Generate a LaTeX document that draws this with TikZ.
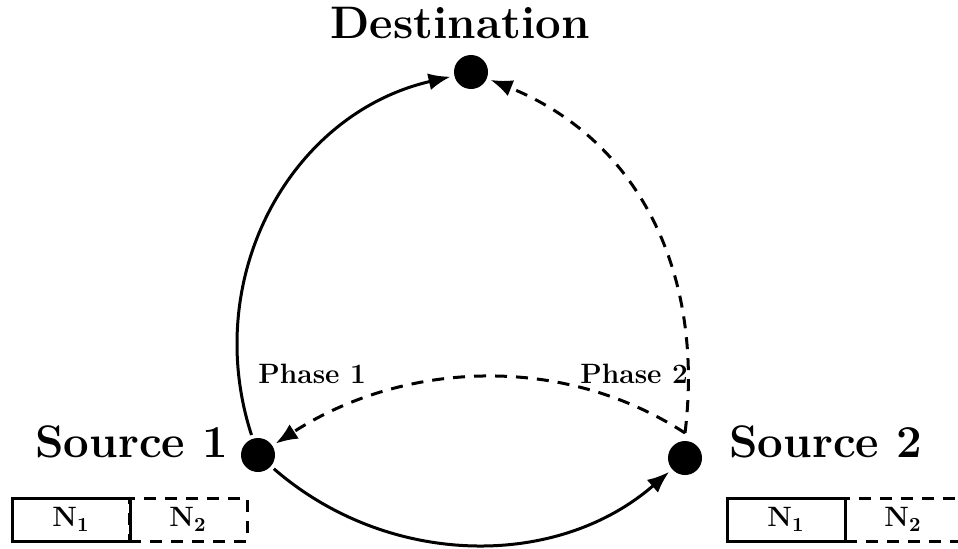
\documentclass[tikz,border=0pt]{standalone}
\usetikzlibrary{arrows.meta}
\begin{document}
\begin{tikzpicture}[x=0.5pt,y=0.5pt,
  dot/.style={circle,fill=black,inner sep=0pt,minimum size=17pt,outer sep=2pt},
  bigtext/.style={font=\fontsize{22.8}{26}\selectfont\bfseries,inner sep=0pt},
  smalltext/.style={font=\fontsize{14}{16}\selectfont\bfseries,inner sep=0pt},
  conn/.style={line width=1.5pt,-{Latex[length=11pt,width=8.5pt]}},
  dashconn/.style={conn,dash pattern=on 6pt off 4.5pt},
  solidbox/.style={draw,line width=1.5pt,minimum width=59pt,minimum height=21.5pt,inner sep=0pt,font=\fontsize{14}{16}\selectfont\bfseries},
  dashbox/.style={solidbox,dash pattern=on 6pt off 4.5pt}]
\useasboundingbox (0,0) rectangle (958,548);
\node[dot] (d) at (471,476) {};
\node[dot] (s1) at (258,93) {};
\node[dot] (s2) at (685,90) {};
\coordinate (s2top) at (685,115);
\node[bigtext,anchor=base] (dl) at (460,510) {Destination};
\node[bigtext,anchor=base west] (s1l) at (35,91) {Source 1};
\node[bigtext,anchor=base west] (s2l) at (729,91) {Source 2};
\node[smalltext,anchor=base west] (p1) at (258,165) {Phase 1};
\node[smalltext,anchor=base west] (p2) at (580,165) {Phase 2};
% boxes
\node[dashbox] (b2) at (188,28.5) {N$_{\mathbf{2}}$};
\node[solidbox] (b1) at (71,28.5) {N$_{\mathbf{1}}$};
\node[dashbox,minimum width=64pt] (c2) at (909,28.5) {};
\node[smalltext] (c2t) at (903,28.5) {N$_{\mathbf{2}}$};
\node[solidbox] (c1) at (786,28.5) {N$_{\mathbf{1}}$};
% connectors
\draw[conn] (s1) to[out=108,in=193,looseness=1.03] (d);
\draw[dashconn] (s2top) to[out=83,in=-22,looseness=1.02] (d);
\draw[dashconn] (s2top) to[out=147,in=33,looseness=0.93] (s1);
\draw[conn] (s1) to[out=-41,in=-139,looseness=0.97] (s2);
\end{tikzpicture}
\end{document}
